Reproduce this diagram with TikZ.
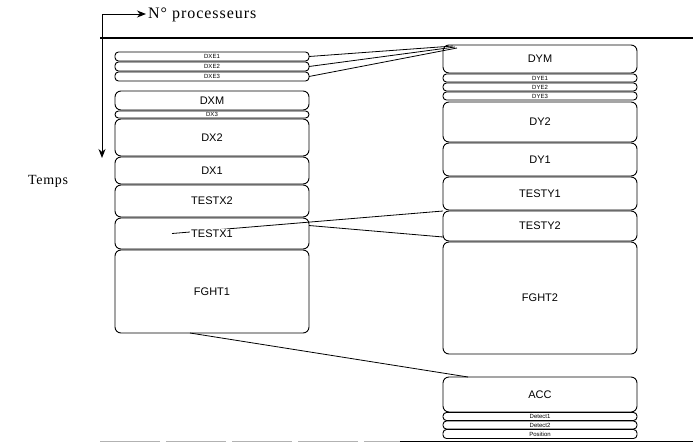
\documentclass[tikz,border=0pt]{standalone}
\usepackage{fontspec}
\setmainfont{Liberation Serif}
\setsansfont{Liberation Sans}
\usetikzlibrary{arrows.meta, positioning, backgrounds}

\begin{document}
\begin{tikzpicture}[
    x=1pt, y=-1pt,
    node distance=1pt,
    tache/.style={rectangle, rounded corners=6pt, draw=black, line width=0.9pt, outer sep=0pt, align=center, minimum width=194pt, inner sep=0pt, font=\sffamily\fontsize{11}{11}\selectfont},
    mince/.style={tache, rounded corners=3.5pt, minimum height=9pt, font=\sffamily\fontsize{6}{6}\selectfont},
    etiq/.style={fill=white, inner sep=1pt, font=\sffamily\fontsize{11}{11}\selectfont},
    lien/.style={line width=0.8pt},
    axe/.style={-{Stealth[length=9pt, width=7pt]}, line width=1pt}
]
\useasboundingbox (0,0) rectangle (693,445);

\coordinate (origine) at (102,14);
\coordinate (fintemps) at (102,158);
\node[anchor=west, inner sep=2pt, font=\fontsize{16}{16}\selectfont\addfontfeatures{LetterSpace=6}] (proc) at (146,15) {N° processeurs};
\node[anchor=west, inner sep=0pt, font=\fontsize{14}{14}\selectfont\addfontfeatures{LetterSpace=5}] (temps) at (28,181) {Temps};
\draw[axe] (origine) -- (proc.west |- origine);
\draw[axe] (origine) -- (fintemps);

\coordinate (hg) at (100,38);
\coordinate (hd) at (693,38);
\draw[line width=1.2pt] (hg) -- (hd);

\node[mince, anchor=north] (dxe1) at (212,52) {DXE1};
\node[mince, below=of dxe1] (dxe2) {DXE2};
\node[mince, below=of dxe2] (dxe3) {DXE3};
\node[tache, minimum height=19pt, below=10pt of dxe3] (dxm) {DXM};
\node[mince, minimum height=7pt, below=of dxm] (dx3) {DX3};
\node[tache, minimum height=37pt, below=of dx3] (dx2) {DX2};
\node[tache, minimum height=27pt, below=of dx2] (dx1) {DX1};
\node[tache, minimum height=32pt, below=of dx1] (testx2) {TESTX2};
\node[tache, minimum height=31pt, below=of testx2, label={[etiq]center:TESTX1}] (testx1) {};
\node[tache, minimum height=83pt, below=of testx1] (fght1) {FGHT1};

\node[tache, minimum height=28pt, anchor=north] (dym) at (540,45) {DYM};
\node[mince, minimum height=8pt, below=of dym] (dye1) {DYE1};
\node[mince, minimum height=8pt, below=of dye1] (dye2) {DYE2};
\node[mince, minimum height=8pt, below=of dye2] (dye3) {DYE3};
\node[tache, minimum height=40pt, below=2pt of dye3] (dy2) {DY2};
\node[tache, minimum height=33pt, below=of dy2] (dy1) {DY1};
\node[tache, minimum height=33pt, below=of dy1] (testy1) {TESTY1};
\node[tache, minimum height=30pt, below=of testy1] (testy2) {TESTY2};
\node[tache, minimum height=112pt, below=of testy2] (fght2) {FGHT2};
\node[tache, minimum height=35pt, below=23pt of fght2] (acc) {ACC};
\node[mince, minimum height=8pt, below=0.5pt of acc] (detect1) {Detect1};
\node[mince, minimum height=8pt, below=0.5pt of detect1] (detect2) {Detect2};
\node[mince, minimum height=9pt, below=0.5pt of detect2] (position) {Position};

\coordinate (bg) at (100,441);
\coordinate (bm) at (400,441);
\coordinate (bd) at (693,441);
\draw[gray!60, line width=0.8pt, dash pattern=on 60pt off 6pt] (bg) -- (bm);
\draw[line width=0.9pt] (bm) -- (bd);

\begin{scope}[on background layer]
\draw[lien] (dxe1.east) -- ([xshift=10pt,yshift=-1pt]dym.north west);
\draw[lien] (dxe2.east) -- ([xshift=12pt,yshift=-2pt]dym.north west);
\draw[lien] (dxe3.east) -- ([xshift=14pt,yshift=-3pt]dym.north west);
\draw[lien] ([xshift=-40pt]testx1.center) -- (testy2.north west);
\draw[lien] ([yshift=8pt]testx1.east) -- ([yshift=4pt]testy2.south west);
\draw[lien] ([xshift=-22pt]fght1.south) -- ([xshift=25pt]acc.north west);
\end{scope}
\end{tikzpicture}
\end{document}
